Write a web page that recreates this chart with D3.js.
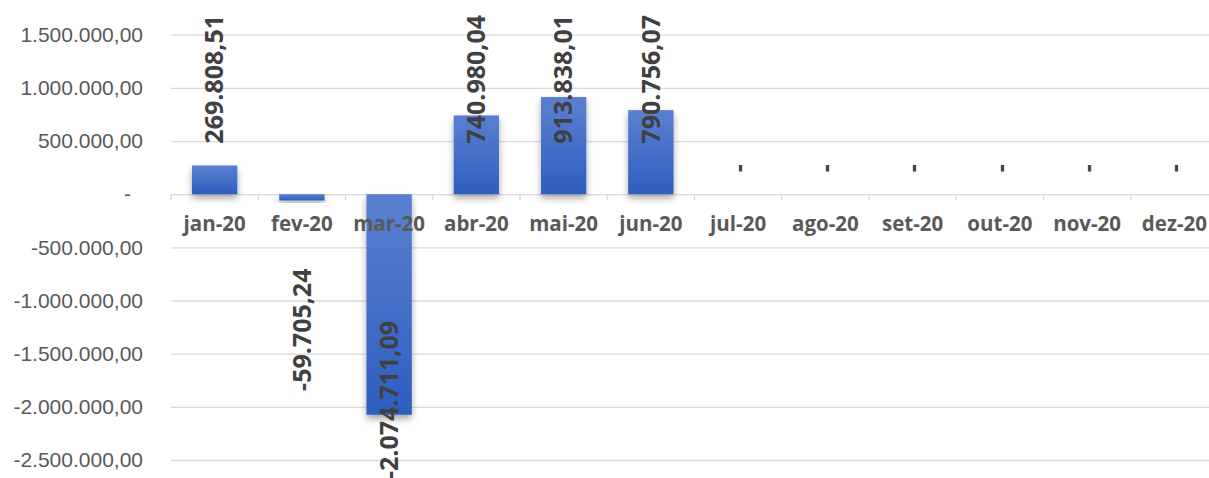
<!DOCTYPE html>
<html>
<head>
<meta charset="utf-8">
<script src="https://cdn.jsdelivr.net/npm/d3@7"></script>
<style>
  body { margin: 0; background: #fff; }
  svg { display: block; }
</style>
</head>
<body>
<script>
// valores mensais (R$)
const months = ["jan-20", "fev-20", "mar-20", "abr-20", "mai-20", "jun-20",
                "jul-20", "ago-20", "set-20", "out-20", "nov-20", "dez-20"]
const values = [269808.51, -59705.24, -2074711.09, 740980.04, 913838.01, 790756.07,
                0, 0, 0, 0, 0, 0]
const yTicks = [1500000, 1000000, 500000, 0, -500000, -1000000, -1500000, -2000000, -2500000]

const data = months.map((m, i) => ({ month: m, value: values[i] }))

var width = 1209,
    height = 478;

// ("top" e reservado no window, por isso os nomes compridos)
var plotLeft = 171, plotRight = 1218, plotTop = 34.7, plotBottom = 460;

const br = d3.formatLocale({ decimal: ",", thousands: ".", grouping: [3], currency: ["R$", ""], minus: "-" })
const fmt = br.format(",.2f")
const label = v => v === 0 ? "-" : fmt(v)

var svg = d3.select("body").append("svg")
    .attr("width", width)
    .attr("height", height)
    .style("font-family", "'Open Sans', sans-serif");

var defs = svg.append("defs");

var grad = defs.append("linearGradient")
    .attr("id", "barGrad")
    .attr("x1", 0).attr("y1", 0).attr("x2", 0).attr("y2", 1);
grad.append("stop").attr("offset", "0%").attr("stop-color", "#5b80d0");
grad.append("stop").attr("offset", "100%").attr("stop-color", "#2e5ebf");

defs.append("filter")
    .attr("id", "shadow")
    .attr("x", "-30%").attr("y", "-30%").attr("width", "160%").attr("height", "160%")
    .append("feDropShadow")
    .attr("dx", 0).attr("dy", 4).attr("stdDeviation", 3.5)
    .attr("flood-color", "#000").attr("flood-opacity", 0.35);

var x = d3.scaleBand()
    .domain(months)
    .range([plotLeft, plotRight])
    .paddingInner(0.48)
    .paddingOuter(0.24);

var y = d3.scaleLinear()
    .domain([-2500000, 1500000])
    .range([plotBottom, plotTop]);

// linhas de grade + rotulos do eixo y
var yAxis = svg.append("g")
    .attr("transform", `translate(${plotLeft},0)`)
    .call(d3.axisLeft(y)
        .tickValues(yTicks)
        .tickSize(-(width - plotLeft))
        .tickPadding(28)
        .tickFormat(label));

yAxis.select(".domain").remove();
yAxis.selectAll("line").attr("stroke", "#d9d9d9").attr("stroke-width", 1.3);
yAxis.selectAll("text")
    .attr("fill", "#595959")
    .style("font-size", "21px")
    .attr("dx", d => d === 0 ? -12 : 0);

// marcas do eixo x nas divisoes entre categorias
const boundaries = d3.range(months.length + 1).map(i => plotLeft + i * x.step())
svg.append("g")
    .selectAll("line")
    .data(boundaries)
    .join("line")
    .attr("x1", d => d).attr("x2", d => d)
    .attr("y1", y(0)).attr("y2", y(0) + 6)
    .attr("stroke", "#d9d9d9")
    .attr("stroke-width", 1.3);

// barras
svg.append("g")
    .selectAll("rect")
    .data(data.filter(d => d.value !== 0))
    .join("rect")
    .attr("x", d => x(d.month))
    .attr("width", x.bandwidth())
    .attr("y", d => y(Math.max(0, d.value)))
    .attr("height", d => Math.abs(y(d.value) - y(0)))
    .attr("fill", "url(#barGrad)")
    .attr("filter", "url(#shadow)");

// rotulos do eixo x
svg.append("g")
    .selectAll("text")
    .data(months)
    .join("text")
    .attr("x", d => x(d) + x.bandwidth() / 2)
    .attr("y", y(0) + 37)
    .attr("text-anchor", "middle")
    .attr("fill", "#595959")
    .style("font-size", "20.5px")
    .style("font-weight", "bold")
    .text(d => d);

// rotulos de dados (verticais)
var labels = svg.append("g")
    .selectAll("text")
    .data(data)
    .join("text")
    .attr("text-anchor", "start")
    .attr("fill", "#404040")
    .style("font-size", "25px")
    .style("font-weight", "bold")
    .text(d => label(d.value));

labels.each(function (d) {
    const len = this.getComputedTextLength()
    const cx = x(d.month) + x.bandwidth() / 2
    var start
    if (d.value >= 0) {
        // acima da barra, sem passar do topo da area
        start = Math.max(y(d.value) - 22, 15 + len)
    } else {
        // abaixo da barra, limitado pela borda inferior do grafico
        start = Math.min(y(d.value) + 68 + len, 479)
    }
    d3.select(this)
        .attr("transform", `translate(${cx},${start}) rotate(-90)`)
        .attr("dy", "0.35em");
});
</script>
</body>
</html>
